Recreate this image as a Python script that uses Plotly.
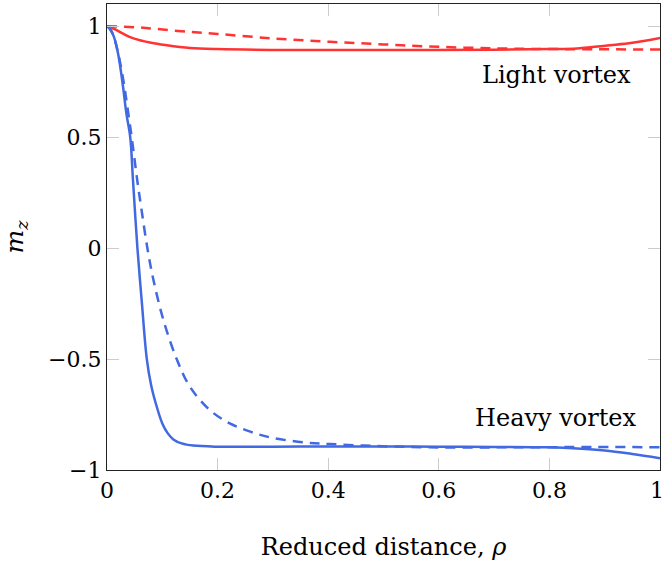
import plotly.graph_objects as go

# Light vortex (red)
light_solid_x = [0, 0.008, 0.0175, 0.03, 0.048, 0.08, 0.108, 0.15, 0.2, 0.331, 0.5, 0.7, 0.8, 0.85, 0.91, 0.95, 1.0]
light_solid_y = [1, 0.993, 0.982, 0.965, 0.945, 0.925, 0.914, 0.902, 0.897, 0.893, 0.893, 0.894, 0.897, 0.9,
                 0.914, 0.925, 0.947]
light_dash_x = [0, 0.03, 0.06, 0.078, 0.15, 0.2, 0.3, 0.4, 0.5, 0.6, 0.705, 0.8, 1.0]
light_dash_y = [1, 0.998, 0.994, 0.99, 0.974, 0.965, 0.945, 0.93, 0.918, 0.907, 0.9, 0.897, 0.895]

# Heavy vortex (blue)
heavy_solid_x = [0, 0.006, 0.012, 0.02, 0.029, 0.035, 0.042, 0.047, 0.055, 0.063, 0.072, 0.08, 0.09,
                 0.1, 0.11, 0.12, 0.135, 0.156, 0.2, 0.3, 0.4, 0.5, 0.6, 0.7, 0.8, 0.85, 0.9, 0.95, 1.0]
heavy_solid_y = [1, 0.985, 0.955, 0.877, 0.727, 0.607, 0.5, 0.306, 0.0, -0.245, -0.5, -0.62, -0.715,
                 -0.79, -0.835, -0.862, -0.88, -0.89, -0.895, -0.895, -0.894, -0.894, -0.895, -0.896,
                 -0.898, -0.903, -0.912, -0.928, -0.947]
heavy_dash_x = [0, 0.006, 0.012, 0.02, 0.03, 0.036, 0.0446, 0.055, 0.062, 0.073, 0.084, 0.102, 0.126, 0.15,
                0.186, 0.222, 0.259, 0.295, 0.361, 0.403, 0.488, 0.584, 0.7, 0.8, 1.0]
heavy_dash_y = [1, 0.985, 0.955, 0.88, 0.75, 0.65, 0.5, 0.3, 0.18, 0.0, -0.144, -0.324, -0.5, -0.625,
                -0.73, -0.79, -0.827, -0.853, -0.877, -0.883, -0.892, -0.898, -0.898, -0.897, -0.897]

y_ticks = [-1, -0.5, 0, 0.5, 1]
y_tick_text = ["\u22121", "\u22120.5", "0", "0.5", "1"]
x_ticks = [0, 0.2, 0.4, 0.6, 0.8, 1]
x_tick_text = ["0", "0.2", "0.4", "0.6", "0.8", "1"]

RED = "rgb(255,51,51)"
BLUE = "rgb(65,105,225)"
FONT = "DejaVu Serif"
FS = 22
FS_TEXT = 24

fig = go.Figure()
fig.add_trace(go.Scatter(x=light_dash_x, y=light_dash_y, mode="lines",
                         line=dict(color=RED, width=2.5, dash="10px,7px", shape="spline")))
fig.add_trace(go.Scatter(x=light_solid_x, y=light_solid_y, mode="lines",
                         line=dict(color=RED, width=2.5, shape="spline")))
fig.add_trace(go.Scatter(x=heavy_dash_x, y=heavy_dash_y, mode="lines",
                         line=dict(color=BLUE, width=2.5, dash="10px,7px", shape="spline")))
fig.add_trace(go.Scatter(x=heavy_solid_x, y=heavy_solid_y, mode="lines",
                         line=dict(color=BLUE, width=2.5, shape="spline")))

fig.add_annotation(x=0.812, y=0.78, text="Light vortex", showarrow=False,
                   font=dict(family=FONT, size=FS_TEXT, color="black"))
fig.add_annotation(x=0.812, y=-0.766, text="Heavy vortex", showarrow=False,
                   font=dict(family=FONT, size=FS_TEXT, color="black"))

# last x tick label sits at the right edge; draw it slightly shifted so it stays inside the page
fig.add_annotation(x=x_ticks[-1], xref="x", y=0, yref="paper", yanchor="top", xanchor="center",
                   text=x_tick_text[-1], showarrow=False, xshift=-3, yshift=-6,
                   font=dict(family=FONT, size=FS, color="black"))
x_tick_labels = x_tick_text[:-1] + [""]

axis_common = dict(showgrid=False, zeroline=False, showline=True, linecolor="#222", linewidth=1.3,
                   mirror="ticks", ticks="inside", ticklen=12, tickcolor="#cccccc", tickwidth=1,
                   automargin=False,
                   tickfont=dict(family=FONT, size=FS, color="black"))

fig.update_xaxes(range=[0, 1], tickvals=x_ticks, ticktext=x_tick_labels,
                 title=dict(text="Reduced distance, <i>ρ</i>", font=dict(family=FONT, size=FS_TEXT, color="black"),
                            standoff=36),
                 **axis_common)
fig.update_yaxes(range=[-1, 1.1], tickvals=y_ticks, ticktext=y_tick_text,
                 title=dict(text="<i>m<sub>z</sub></i>", font=dict(family=FONT, size=25, color="black"),
                            standoff=20),
                 **axis_common)

fig.update_layout(width=664, height=565, showlegend=False,
                  margin=dict(l=107, r=4, t=4, b=95),
                  plot_bgcolor="white", paper_bgcolor="white")

fig.write_html("out.html", config={"displayModeBar": False},
               post_script="document.body.style.margin='0';")
